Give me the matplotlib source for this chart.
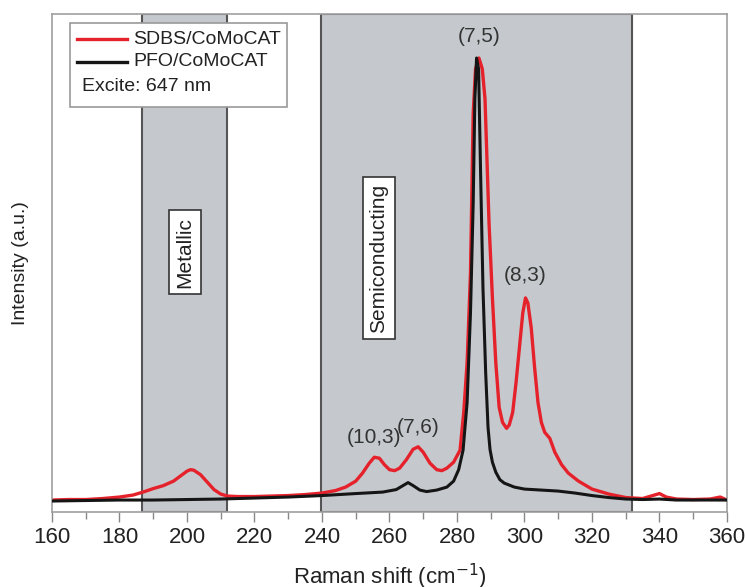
import matplotlib
matplotlib.use("Agg")
import matplotlib.pyplot as plt
from matplotlib.patches import Rectangle

plt.rcParams['font.family'] = ['Liberation Sans', 'DejaVu Sans']

# spectra (intensity in arbitrary units, 0..1 of the axis)
sdbs_x = [160, 165, 170, 175, 180, 184, 187, 190, 193, 196, 198, 200, 201, 202, 204, 206, 208, 210,
          212, 215, 220, 225, 230, 235, 240, 244, 247, 250, 252, 254, 255.5, 257, 258.5, 260, 261.5,
          263, 265, 267, 268.5, 270, 272, 274, 275.5, 277, 279, 280.9, 282, 283, 284, 284.8, 285.5,
          286.5, 287.5, 288.3, 289.5, 290.5, 291.5, 292.5, 293.5, 294.7, 295.5, 296.5, 297.5, 298.5,
          299.5, 300.3, 301, 302, 303, 304, 305, 306, 307.5, 309, 311, 313, 316, 320, 325, 330, 335,
          338, 340, 342, 345, 350, 355, 358, 360]
sdbs_y = [0.024, 0.025, 0.025, 0.027, 0.030, 0.034, 0.040, 0.047, 0.053, 0.062, 0.072, 0.082, 0.085,
          0.084, 0.075, 0.060, 0.045, 0.036, 0.032, 0.031, 0.031, 0.032, 0.033, 0.035, 0.038, 0.043,
          0.050, 0.062, 0.078, 0.098, 0.110, 0.108, 0.095, 0.085, 0.083, 0.088, 0.105, 0.126, 0.131,
          0.120, 0.098, 0.085, 0.083, 0.088, 0.100, 0.124, 0.20, 0.30, 0.48, 0.80, 0.89, 0.912, 0.89,
          0.83, 0.58, 0.43, 0.30, 0.21, 0.18, 0.168, 0.175, 0.20, 0.26, 0.33, 0.40, 0.43, 0.42, 0.37,
          0.29, 0.22, 0.18, 0.16, 0.148, 0.12, 0.095, 0.078, 0.062, 0.046, 0.036, 0.029, 0.027, 0.033,
          0.037, 0.030, 0.026, 0.025, 0.026, 0.030, 0.024]

pfo_x = [160, 170, 180, 190, 200, 210, 220, 230, 240, 250, 258, 262, 264, 265.5, 267, 269, 271, 274,
         277, 279, 280.5, 281.8, 283, 284, 284.8, 285.3, 285.8, 286.4, 287, 287.7, 288.5, 289.2,
         289.8, 290.5, 291.5, 292.7, 294, 297, 300, 305, 310, 315, 320, 325, 330, 335, 340, 345,
         350, 360]
pfo_y = [0.022, 0.023, 0.024, 0.024, 0.025, 0.026, 0.028, 0.030, 0.033, 0.037, 0.040, 0.045, 0.053,
         0.059, 0.053, 0.044, 0.041, 0.044, 0.050, 0.062, 0.085, 0.124, 0.22, 0.40, 0.62, 0.83,
         0.912, 0.89, 0.68, 0.45, 0.28, 0.17, 0.125, 0.10, 0.08, 0.065, 0.058, 0.050, 0.046, 0.044,
         0.042, 0.038, 0.033, 0.029, 0.026, 0.025, 0.026, 0.024, 0.024, 0.024]

regions = [(186.7, 211.9), (239.6, 331.8)]
region_names = ["Metallic", "Semiconducting"]
region_label_x = [199.4, 256.9]
region_label_y = [0.522, 0.51]

peak_names = ["(10,3)", "(7,6)", "(7,5)", "(8,3)"]
peak_x = [255.5, 268.5, 286.5, 300.3]
peak_label_y = [0.15, 0.17, 0.955, 0.475]

legend_names = ["SDBS/CoMoCAT", "PFO/CoMoCAT"]
legend_colors = ['#e5222b', '#151515']
excite_text = "Excite: 647 nm"

fig = plt.figure(figsize=(7.45, 5.87), dpi=100)
ax = fig.add_axes([0.0698, 0.1278, 0.906, 0.848])

for (a, b) in regions:
    ax.axvspan(a, b, facecolor='#c5c9cd', edgecolor='#555555', linewidth=1.5, zorder=0)

ax.plot(pfo_x, pfo_y, color=legend_colors[1], linewidth=2.2, zorder=3)
ax.plot(sdbs_x, sdbs_y, color=legend_colors[0], linewidth=2.4, zorder=2)

for name, xx, yy in zip(region_names, region_label_x, region_label_y):
    ax.text(xx, yy, name, rotation=90, ha='center', va='center', fontsize=15, color='#222222',
            bbox=dict(boxstyle='square,pad=0.3', facecolor='white', edgecolor='#333333', linewidth=1.2),
            zorder=4)

for name, xx, yy in zip(peak_names, peak_x, peak_label_y):
    ax.text(xx, yy, name, ha='center', va='center', fontsize=15, color='#333333', zorder=4)

# legend box drawn by hand so the "Excite" line can sit under the handles
ax.add_patch(Rectangle((0.0267, 0.813), 0.321, 0.169, transform=ax.transAxes,
                       facecolor='white', edgecolor='#999999', linewidth=1.2, zorder=5))
for i, (name, col) in enumerate(zip(legend_names, legend_colors)):
    yy = 0.950 - i * 0.046
    ax.plot([0.037, 0.111], [yy, yy], transform=ax.transAxes, color=col, linewidth=2.4, zorder=6)
    ax.text(0.120, yy, name, transform=ax.transAxes, ha='left', va='center', fontsize=14,
            color='#222222', zorder=6)
ax.text(0.044, 0.855, excite_text, transform=ax.transAxes, ha='left', va='center', fontsize=14,
        color='#222222', zorder=6)

ax.set_xlim(160, 360)
ax.set_ylim(0, 1)
ax.set_xticks(range(160, 361, 20))
ax.set_xticks(range(170, 361, 20), minor=True)
ax.set_yticks([])
ax.tick_params(axis='x', which='major', length=7, width=1, color='#888888', pad=4,
               labelsize=16, labelcolor='#222222')
ax.tick_params(axis='x', which='minor', length=5, width=1, color='#888888')
for s in ax.spines.values():
    s.set_color('#a0a0a0')
    s.set_linewidth(1.2)

ax.set_xlabel("Raman shift (cm$^{-1}$)", fontsize=16, color='#222222', labelpad=10)
fig.text(0.027, 0.552, "Intensity (a.u.)", rotation=90, ha='center', va='center',
         fontsize=14, color='#222222')

fig.savefig("out.png", dpi=100)
